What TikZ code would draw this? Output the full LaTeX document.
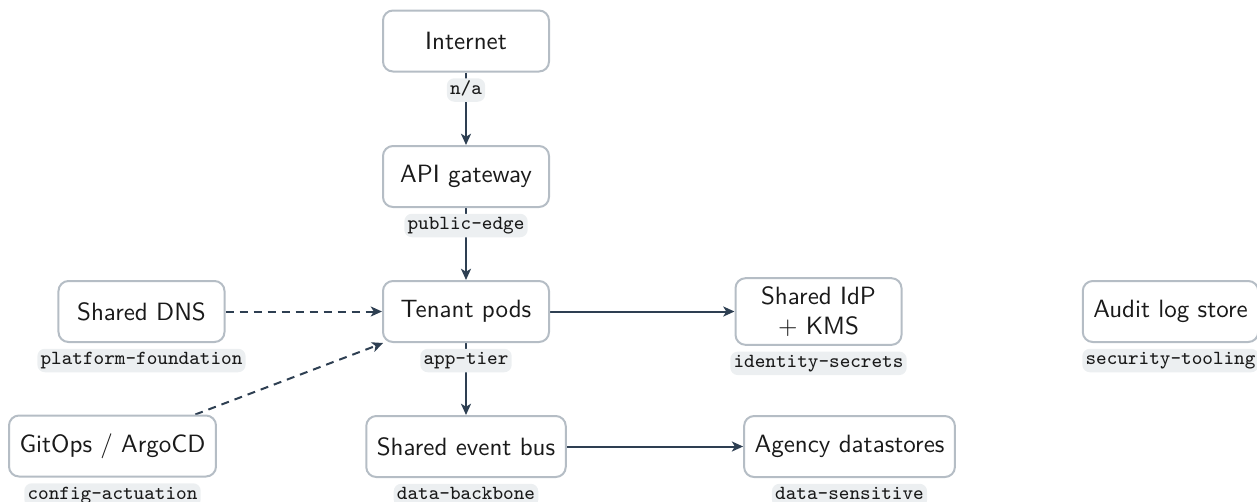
\documentclass[tikz,border=0pt]{standalone}
\usetikzlibrary{arrows.meta}
\pgfdeclarelayer{edges}
\pgfsetlayers{edges,main}
\definecolor{boxline}{HTML}{B5BDC5}
\definecolor{edgecol}{HTML}{2E3F52}
\definecolor{tagfill}{HTML}{ECEFF1}
\definecolor{ink}{HTML}{1A1A1A}
\tikzset{
  svc/.style={draw=boxline, line width=0.8pt, rounded corners=4pt, fill=white,
    minimum width=66.4pt, minimum height=24.4pt, inner xsep=4.2pt,
    font=\sffamily, align=center, text=ink},
  tagbox/.style={fill=tagfill, rounded corners=3pt, font=\ttfamily\footnotesize,
    inner xsep=1.3pt, inner ysep=1.2pt, text height=5.2pt, text depth=1.8pt,
    text=ink, label distance=2.1pt},
  flow/.style={draw=edgecol, line width=0.8pt,
    -{Stealth[length=4.5pt,width=4pt,inset=1.2pt]}},
  weak/.style={flow, dash pattern=on 3.2pt off 2.4pt},
}
\begin{document}
\begin{tikzpicture}[x=0.4pt, y=-0.4pt]
\useasboundingbox (0,0) rectangle (1257,501);

% services, each tagged with its tier
\node[svc, label={[tagbox]below:n/a}] (inet) at (466,41) {Internet};
\node[svc, label={[tagbox]below:public-edge}] (api) at (466,176.5) {API gateway};
\node[svc, label={[tagbox]below:app-tier}] (tenant) at (466,311.5) {Tenant pods};
\node[svc, label={[tagbox]below:data-backbone}] (bus) at (466,446.5) {Shared event bus};
\node[svc, label={[tagbox]below:platform-foundation}] (dns) at (141.5,311.5) {Shared DNS};
\node[svc, label={[tagbox]below:config-actuation}] (gitops) at (112.5,446) {GitOps / ArgoCD};
\node[svc, label={[tagbox]below:identity-secrets}] (idp) at (818.5,311.5) {Shared IdP\\+ KMS};
\node[svc, label={[tagbox]below:data-sensitive}] (agency) at (849.5,446.5) {Agency datastores};
\node[svc, label={[tagbox]below:security-tooling}] (audit) at (1170.5,311.5) {Audit log store};

% connectors run underneath the tier tags
\begin{pgfonlayer}{edges}
\draw[flow] (inet) -- (api);
\draw[flow] (api) -- (tenant);
\draw[flow] (tenant) -- (bus);
\draw[weak] (dns) -- (tenant);
\draw[weak] (gitops) -- (tenant);
\draw[flow] (tenant) -- (idp);
\draw[flow] (bus) -- (agency);
\end{pgfonlayer}
\end{tikzpicture}
\end{document}
